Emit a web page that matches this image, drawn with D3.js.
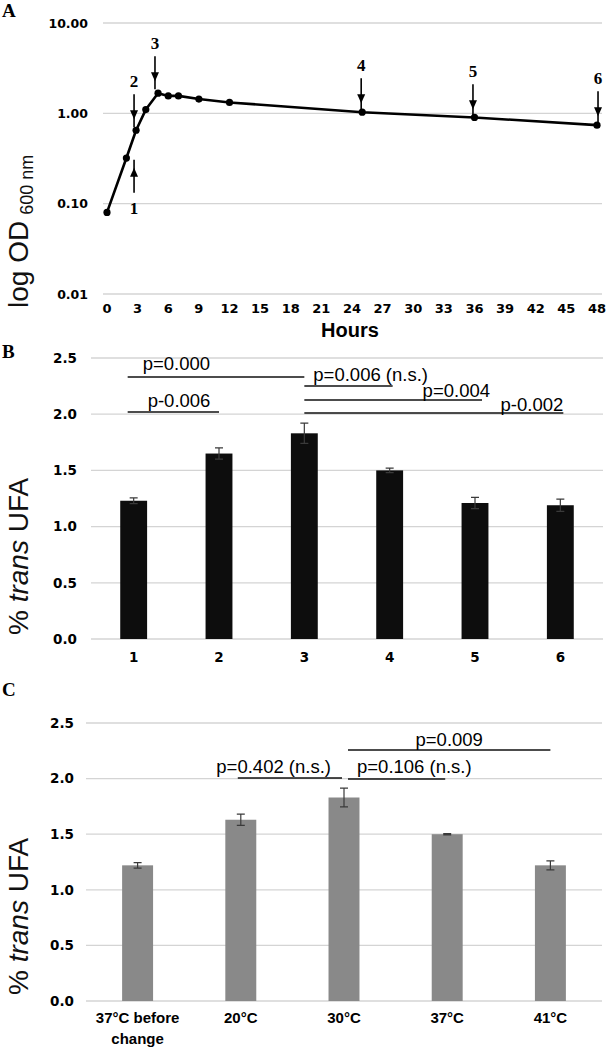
<!DOCTYPE html>
<html>
<head>
<meta charset="utf-8">
<script src="https://d3js.org/d3.v7.min.js"></script>
<style>
  body { margin: 0; background: #fff; }
  svg { display: block; }
  .tick-lab { font-family: "DejaVu Sans", sans-serif; font-weight: bold; font-size: 12.5px; fill: #000; }
  .grid { stroke: #d4d4d4; stroke-width: 1.3; }
  .ptext { font-family: "Liberation Sans", Arial, sans-serif; font-size: 18.5px; fill: #000; }
  .panel { font-family: "Liberation Serif", "Times New Roman", serif; font-weight: bold; font-size: 19px; }
  .ylab { font-family: "Liberation Sans", Arial, sans-serif; font-size: 28px; fill: #111; }
  .err { stroke: #3a3a3a; stroke-width: 1.2; fill: none; }
</style>
</head>
<body>
<script>
// ---- panel A : growth curve ----
var hours = [0, 1.9, 2.85, 3.8, 5, 6, 7, 9, 12, 25, 36, 48];
var od600 = [0.08, 0.32, 0.65, 1.1, 1.67, 1.56, 1.56, 1.44, 1.32, 1.03, 0.9, 0.74];
var odTicks = [0.01, 0.1, 1, 10];
var odTickLabels = ["0.01", "0.10", "1.00", "10.00"];
var hourTicks = [0, 3, 6, 9, 12, 15, 18, 21, 24, 27, 30, 33, 36, 39, 42, 45, 48];
// sampling points marked by arrows
var sampleLabels = ["1", "2", "3", "4", "5", "6"];
var sampleHours = [2.65, 2.65, 4.7, 24.9, 35.85, 48.1];
var sampleTipOD = [0.25, 0.86, 2.26, 1.29, 1.11, 0.93];
var sampleDir = ["up", "down", "down", "down", "down", "down"];

// ---- panel B : % trans UFA per sampling point ----
var phases = ["1", "2", "3", "4", "5", "6"];
var transB = [1.23, 1.65, 1.83, 1.50, 1.21, 1.19];
var errB = [0.025, 0.05, 0.09, 0.02, 0.05, 0.055];
var pairsB = [[0, 2], [0, 1], [2, 3], [2, 4], [2, 5]];
var pLabelsB = ["p=0.000", "p-0.006", "p=0.006 (n.s.)", "p=0.004", "p-0.002"];

// ---- panel C : % trans UFA per temperature ----
var temps = [["37°C before", "change"], ["20°C"], ["30°C"], ["37°C"], ["41°C"]];
var transC = [1.22, 1.63, 1.83, 1.50, 1.22];
var errC = [0.025, 0.05, 0.085, 0.006, 0.04];
var pairsC = [[1, 2], [2, 4], [2, 3]];
var pLabelsC = ["p=0.402 (n.s.)", "p=0.009", "p=0.106 (n.s.)"];

var pctTicks = [0, 0.5, 1, 1.5, 2, 2.5];
var pctTickLabels = ["0.0", "0.5", "1.0", "1.5", "2.0", "2.5"];

// layout of the significance brackets (level in data units, text placement)
var bracketsB = [
  {lvl: 2.331, x0: -6, x1: 0, anchor: "start", dx: 15, dy: -7},
  {lvl: 2.020, x0: -6, x1: 0, anchor: "start", dx: 20, dy: -5},
  {lvl: 2.251, x0: 0, x1: 3, anchor: "start", dx: 9, dy: -5},
  {lvl: 2.126, x0: 0, x1: 7, anchor: "end", dx: 8, dy: -3},
  {lvl: 2.011, x0: 0, x1: 3, anchor: "end", dx: 0, dy: -2}
];
var bracketsC = [
  {lvl: 2.005, x0: -3, x1: -2, anchor: "end", dx: -11, dy: -5},
  {lvl: 2.257, x0: 4, x1: 0, anchor: "middle", dx: 0, dy: -4},
  {lvl: 1.996, x0: 4, x1: -2, anchor: "start", dx: 9, dy: -6}
];

var svg = d3.select("body").append("svg")
  .attr("width", 608).attr("height", 1050);

// ================= A =================
var xA = d3.scaleLinear().domain([0, 48]).range([107, 597]);
var yA = d3.scaleLog().domain([0.01, 10]).range([294, 23]);
var gA = svg.append("g");

gA.append("text").attr("class", "panel").attr("x", 2).attr("y", 17).text("A");

gA.selectAll("line.grid").data(odTicks).enter().append("line")
  .attr("class", "grid")
  .attr("x1", 103).attr("x2", 602)
  .attr("y1", function(d) { return yA(d); })
  .attr("y2", function(d) { return yA(d); });

gA.selectAll("text.ylA").data(odTicks).enter().append("text")
  .attr("class", "tick-lab ylA")
  .attr("x", 88).attr("y", function(d) { return yA(d); })
  .attr("dy", "0.36em").attr("text-anchor", "end")
  .text(function(d, i) { return odTickLabels[i]; });

gA.selectAll("text.xlA").data(hourTicks).enter().append("text")
  .attr("class", "tick-lab xlA")
  .attr("x", function(d) { return xA(d); }).attr("y", 312.5)
  .attr("text-anchor", "middle").style("font-size", "13px")
  .text(function(d) { return d; });

gA.append("text")
  .attr("x", 350).attr("y", 337)
  .attr("text-anchor", "middle")
  .style("font-family", "Liberation Sans, Arial, sans-serif")
  .style("font-weight", "bold").style("font-size", "20px")
  .text("Hours");

var ylabA = gA.append("text").attr("class", "ylab")
  .attr("transform", "translate(28,308) rotate(-90)");
ylabA.append("tspan").text("log OD");
ylabA.append("tspan").attr("dx", 6).attr("dy", 5).style("font-size", "18px").text("600 nm");

var pts = hours.map(function(h, i) { return [h, od600[i]]; });
var line = d3.line().x(function(d) { return xA(d[0]); }).y(function(d) { return yA(d[1]); });
gA.append("path").datum(pts)
  .attr("d", line).attr("fill", "none")
  .attr("stroke", "#000").attr("stroke-width", 2.6).attr("stroke-linejoin", "round");
gA.selectAll("circle").data(pts).enter().append("circle")
  .attr("cx", function(d) { return xA(d[0]); })
  .attr("cy", function(d) { return yA(d[1]); })
  .attr("r", 3.6).attr("fill", "#000");

// arrows
var arrLen = 25;
sampleLabels.forEach(function(lab, i) {
  var x = xA(sampleHours[i]), tip = yA(sampleTipOD[i]);
  var s = sampleDir[i] == "down" ? -1 : 1;   // tail side relative to tip
  var tail = tip + s * arrLen;
  gA.append("line")
    .attr("x1", x).attr("x2", x)
    .attr("y1", tail).attr("y2", tip - s * 8)
    .attr("stroke", "#000").attr("stroke-width", 1.6);
  gA.append("path")
    .attr("d", "M" + (x - 4) + "," + (tip + s * 9) + "L" + x + "," + tip + "L" + (x + 4) + "," + (tip + s * 9) + "Z")
    .attr("fill", "#000");
  gA.append("text").attr("class", "panel")
    .attr("x", x).attr("text-anchor", "middle")
    .attr("y", s < 0 ? tail - 7 : tail + 21)
    .style("font-size", "17px")
    .text(lab);
});

// ============ bar panel helper ============
function barPanel(opt) {
  var g = svg.append("g");
  var x = d3.scaleBand().domain(d3.range(opt.values.length)).range(opt.xr);
  var y = d3.scaleLinear().domain([0, 2.5]).range(opt.yr);
  var bw = x.bandwidth() * opt.frac;
  var cx = function(i) { return x(i) + x.bandwidth() / 2; };

  g.append("text").attr("class", "panel").attr("x", 2).attr("y", opt.letterY).text(opt.letter);

  g.selectAll("line.grid").data(pctTicks).enter().append("line")
    .attr("class", "grid")
    .attr("x1", opt.xr[0]).attr("x2", opt.xr[1])
    .attr("y1", function(d) { return y(d); })
    .attr("y2", function(d) { return y(d); });

  g.selectAll("text.yl").data(pctTicks).enter().append("text")
    .attr("class", "tick-lab yl")
    .attr("x", opt.tickX).attr("y", function(d) { return y(d); })
    .attr("dy", "0.36em").attr("text-anchor", "end")
    .style("font-size", "13.5px")
    .text(function(d, i) { return pctTickLabels[i]; });

  g.selectAll("rect").data(opt.values).enter().append("rect")
    .attr("x", function(d, i) { return cx(i) - bw / 2; })
    .attr("width", bw)
    .attr("y", function(d) { return y(d); })
    .attr("height", function(d) { return y(0) - y(d); })
    .attr("fill", opt.fill);

  opt.values.forEach(function(v, i) {
    var c = cx(i), hi = y(v + opt.err[i]), lo = y(v - opt.err[i]);
    g.append("path").attr("class", "err")
      .attr("d", "M" + c + "," + hi + "V" + lo +
                 "M" + (c - 4) + "," + hi + "H" + (c + 4) +
                 "M" + (c - 4) + "," + lo + "H" + (c + 4));
  });

  opt.cats.forEach(function(c, i) {
    var t = g.append("text").attr("class", "tick-lab")
      .attr("x", cx(i)).attr("y", opt.catY).attr("text-anchor", "middle")
      .style("font-family", opt.catFont).style("font-size", opt.catSize);
    [].concat(c).forEach(function(s, j) {
      t.append("tspan").attr("x", cx(i)).attr("dy", j == 0 ? 0 : 21).text(s);
    });
  });

  var yl = g.append("text").attr("class", "ylab")
    .attr("transform", "translate(28," + opt.ylabY + ") rotate(-90)");
  yl.append("tspan").text("% ");
  yl.append("tspan").style("font-style", "italic").text("trans");
  yl.append("tspan").text(" UFA");

  opt.pairs.forEach(function(p, k) {
    var b = opt.brackets[k];
    var x0 = cx(p[0]) + b.x0, x1 = cx(p[1]) + b.x1, ly = y(b.lvl);
    g.append("line").attr("x1", x0).attr("x2", x1).attr("y1", ly).attr("y2", ly)
      .attr("stroke", "#111").attr("stroke-width", 1.6);
    var tx = b.anchor == "start" ? x0 + b.dx : (b.anchor == "end" ? x1 + b.dx : (x0 + x1) / 2 + b.dx);
    g.append("text").attr("class", "ptext")
      .attr("x", tx).attr("y", ly + b.dy).attr("text-anchor", b.anchor)
      .text(opt.labels[k]);
  });
}

barPanel({
  letter: "B", letterY: 358,
  values: transB, err: errB, cats: phases,
  xr: [91, 603], yr: [639, 358], frac: 0.315, tickX: 77,
  fill: "#0d0d0d", catY: 662, catFont: "DejaVu Sans, sans-serif", catSize: "13.5px",
  ylabY: 635, pairs: pairsB, labels: pLabelsB, brackets: bracketsB
});

barPanel({
  letter: "C", letterY: 696,
  values: transC, err: errC, cats: temps,
  xr: [86, 602], yr: [1001, 723], frac: 0.3, tickX: 74,
  fill: "#898989", catY: 1023, catFont: "Liberation Sans, Arial, sans-serif", catSize: "15px",
  ylabY: 995, pairs: pairsC, labels: pLabelsC, brackets: bracketsC
});
</script>
</body>
</html>
